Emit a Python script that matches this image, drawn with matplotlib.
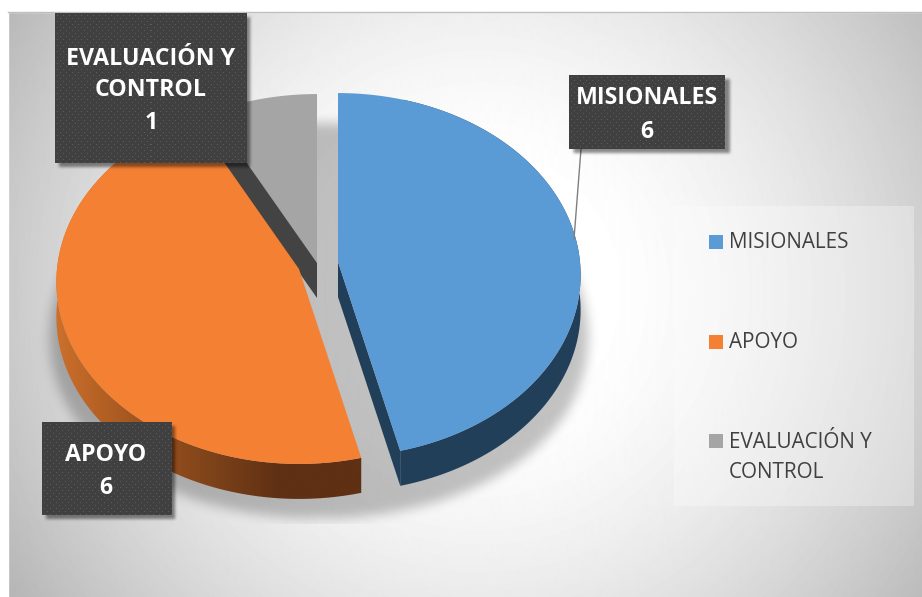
import numpy as np
import matplotlib
matplotlib.use("Agg")
import matplotlib.pyplot as plt
from matplotlib.colors import LinearSegmentedColormap
from matplotlib.patches import Polygon, Rectangle

categories = ["MISIONALES", "APOYO", "EVALUACIÓN Y\nCONTROL"]
values = [6, 6, 1]
colors = ["#5B9BD5", "#F48033", "#A5A5A5"]
wall_colors = ["#223F59", None, "#434343"]

W, H = 922, 597
DEPTH = 35
RX, RY, PERSP = 242.0, 181.0, 0.0714

# where each exploded slice has its tip
apexes = [(338, 262), (299, 269), (317, 263)]

plt.rcParams["font.family"] = ["Open Sans", "DejaVu Sans"]

fig = plt.figure(figsize=(W / 100, H / 100), dpi=100)
ax = fig.add_axes([0, 0, 1, 1])
ax.set_axis_off()


def box_blur(a, r):
    # three box passes, close enough to a gaussian
    k = np.ones(2 * r + 1) / (2 * r + 1)
    for _ in range(3):
        a = np.apply_along_axis(lambda m: np.convolve(m, k, mode="same"), 0, a)
        a = np.apply_along_axis(lambda m: np.convolve(m, k, mode="same"), 1, a)
    return a


def rgba(mask, grey=0.0):
    out = np.zeros(mask.shape + (4,))
    out[..., :3] = grey
    out[..., 3] = mask
    return out


def rim(apex, a0, a1, n=160):
    # angles run clockwise from twelve o'clock, disc seen in perspective
    t = np.radians(np.linspace(a0, a1, n))
    u, v = np.sin(t), np.cos(t)
    d = 1 + PERSP * v
    return apex[0] + RX * u / d, apex[1] - RY * v / d


# page background
yy, xx = np.mgrid[0:H, 0:W]
dist = np.sqrt(((xx - 480) / 520.0) ** 2 + ((yy - 290) / 520.0) ** 2)
grey = 1.0 - 0.25 * np.clip((dist - 0.22) / 0.78, 0, 1.1) ** 1.5
ax.imshow(grey, cmap="gray", vmin=0, vmax=1, extent=(0, W, H, 0), aspect="auto", zorder=0)
ax.add_patch(Rectangle((0, 0), 8, H, color="white", zorder=1))
ax.add_patch(Rectangle((0, 0), W, 12, color="white", zorder=1))
ax.plot([8, W], [12, 12], color="#BFBFBF", lw=1, zorder=1)

# soft shadow under the pie, wider towards the front, cut off at the bottom
sh = (((xx - 318) / (268 + 0.12 * (yy - 320))) ** 2 + ((yy - 320) / 198.0) ** 2 < 1).astype(float)
sh = box_blur(sh, 5) * 0.24
sh[(xx < 38) | (xx > 598) | (yy > 523)] = 0
ax.imshow(rgba(sh), extent=(0, W, H, 0), aspect="auto", zorder=2)

# slice angles
ends = np.cumsum(values) / np.sum(values) * 360
starts = np.concatenate([[0], ends[:-1]])

orange_ramp = LinearSegmentedColormap.from_list(
    "wall", [(0, "#CC702C"), (0.25, "#A4561F"), (0.5, "#7E431A"), (0.72, "#5F3013"), (1, "#5F3013")])

# back to front: grey, orange, blue
for i in [2, 1, 0]:
    apex = apexes[i]
    x, y = rim(apex, starts[i], ends[i])
    z = 3 + (2 - i) * 2
    if i == 0:
        ax.fill([apex[0], apex[0], x[-1], x[-1]],
                [apex[1], apex[1] + DEPTH, y[-1] + DEPTH, y[-1]],
                color=wall_colors[0], lw=0, zorder=z)
        keep = x >= x[-1] - 1
        ax.fill(np.r_[x[keep], x[keep][::-1]], np.r_[y[keep], y[keep][::-1] + DEPTH],
                color=wall_colors[0], lw=0, zorder=z)
    elif i == 1:
        poly = Polygon(np.c_[np.r_[x, x[::-1]], np.r_[y, y[::-1] + DEPTH]],
                       transform=ax.transData, fc="none", lw=0)
        ax.add_patch(poly)
        ramp = np.linspace(0, 1, 320)[None, :]
        img = ax.imshow(ramp, cmap=orange_ramp, extent=(55, 365, H, 0), aspect="auto", zorder=z)
        img.set_clip_path(poly)
    # top face
    ax.fill(np.r_[apex[0], x], np.r_[apex[1], y], color=colors[i], lw=0, zorder=z + 1)

# the grey slice's cut face shows along its starting edge
x, y = rim(apexes[2], starts[2], ends[2])
ax.fill([apexes[2][0], x[0], x[0], apexes[2][0]],
        [apexes[2][1], y[0], y[0] + DEPTH, apexes[2][1] + DEPTH],
        color=wall_colors[2], lw=0, zorder=4)

# legend panel
ax.add_patch(Rectangle((674, 206), 240, 300, fc="white", alpha=0.3, lw=0, zorder=10))
legend_y = [242, 342, 441]
for name, col, ly in zip(categories, colors, legend_y):
    ax.add_patch(Rectangle((709, ly - 7), 14, 14, fc=col, lw=0, zorder=11))
    ax.text(729, ly + 1, name.split("\n")[0], color="#404040", fontsize=14.9, va="center", zorder=11)
    if "\n" in name:
        ax.text(729, ly + 31, name.split("\n")[1], color="#404040", fontsize=14.9, va="center", zorder=11)

# leader line to the blue slice
ax.plot([581, 574], [149, 239], color="#7F7F7F", lw=1, zorder=11)

# data labels
boxes = [(569, 75, 156, 74), (42, 422, 129, 93), (55, 13, 191, 150)]
text_y = [[98, 132], [455, 488], [59, 90, 123]]
text_x = [647, 106, 151]
for name, val, (bx, by, bw, bh), tys, tx in zip(categories, values, boxes, text_y, text_x):
    # drop shadow
    m = ((xx >= bx + 4) & (xx < bx + bw + 4) & (yy >= by + 4) & (yy < by + bh + 4)).astype(float)
    ax.imshow(rgba(box_blur(m, 1) * 0.45), extent=(0, W, H, 0), aspect="auto", zorder=12)
    # dotted fill
    py, px = np.mgrid[0:bh, 0:bw]
    dots = ((px % 6 == 2) & (py % 6 == 2)) | ((px % 6 == 5) & (py % 6 == 5))
    ax.imshow(np.where(dots, 0.36, 0.25), cmap="gray", vmin=0, vmax=1,
              extent=(bx, bx + bw, by + bh, by), aspect="auto", interpolation="nearest", zorder=13)
    for line, ty in zip(name.split("\n") + [str(val)], tys):
        ax.text(tx, ty, line, color="white", fontsize=16.7, fontweight="bold",
                ha="center", va="center", zorder=14)

ax.set_xlim(0, W)
ax.set_ylim(H, 0)
fig.savefig("out.png", dpi=100)
